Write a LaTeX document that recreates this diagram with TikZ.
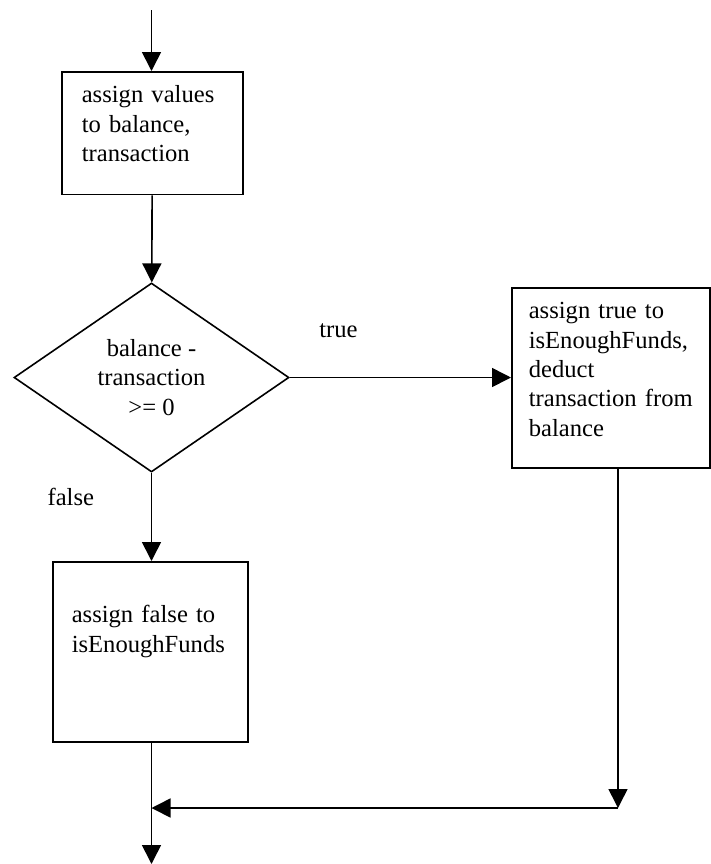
\documentclass[tikz,border=0pt]{standalone}
\usepackage{fontspec}
\setmainfont{Liberation Serif}
\usetikzlibrary{shapes.geometric, arrows.meta, positioning, calc}

\begin{document}
\begin{tikzpicture}[
        x=0.5pt, y=-0.5pt,
        >={Triangle[length=9.5pt, width=9.5pt]},
        font=\fontsize{12.3}{14.7}\selectfont,
        % box styles
        process/.style={rectangle, draw=black, line width=0.8pt, align=left, anchor=north west, inner xsep=10pt, inner ysep=7pt, text height=8.4pt},
        decision/.style={diamond, draw=black, line width=0.8pt, aspect=1.455, minimum width=137.5pt, minimum height=94.5pt, inner sep=0pt, align=center},
        arrow/.style={line width=0.8pt, ->},
        line/.style={line width=0.8pt}
    ]
    \useasboundingbox (0,0) rectangle (711,864);

    % --- 1. NODES ---
    \coordinate (top) at (151.5,10);
    \node[process, text width=70.5pt, text depth=39pt] (assign) at (61,71) {
        assign values\\
        to balance,\\
        transaction
    };

    \node[decision] (check) at (151.5,377.5) {balance -\\ transaction\\ >= 0};

    \node[process, inner xsep=8.5pt, text width=82pt, text depth=67.6pt] (truebox) at (511,287) {
        assign true to\\
        isEnoughFunds,\\
        deduct\\
        transaction from\\
        balance
    };

    \node[process, inner xsep=9.5pt, text width=78.5pt, text height=23.5pt, text depth=52.5pt] (falsebox) at (52,561) {
        assign false to\\
        isEnoughFunds
    };

    \coordinate (exit) at (151.5,864);
    \coordinate (join) at (618,808);

    % --- 2. MAIN LINE ---
    \draw[arrow] (top) -- (top |- assign.north);
    \draw[arrow] (assign) -- (check);
    \draw[arrow] (check) -- node[pos=0.27, left=25pt] {false} (check.south |- falsebox.north);
    \draw[arrow] (check.south |- falsebox.south) -- (exit);

    % --- 3. TRUE BRANCH ---
    \draw[arrow] (check.east) -- node[pos=0.22, above=16pt] {true} (check.east -| truebox.west);
    \draw[arrow] (truebox.south -| join) -- (join);
    \draw[arrow] (join) -- (join -| exit);

\end{tikzpicture}
\end{document}
